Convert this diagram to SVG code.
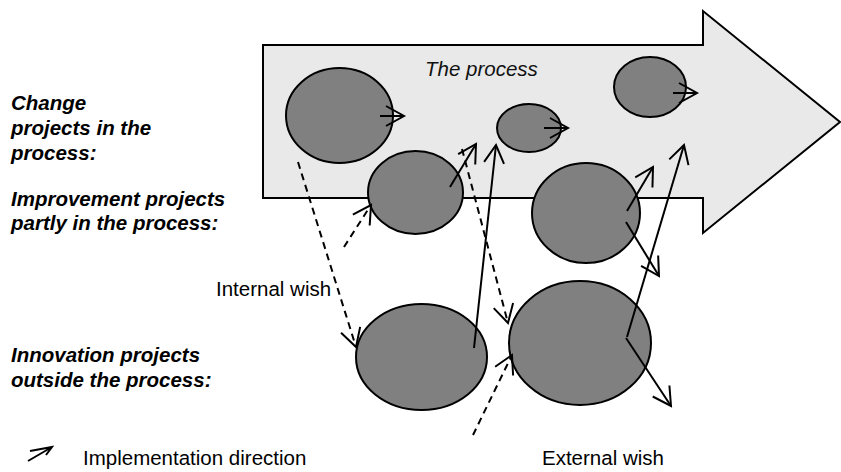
<svg xmlns="http://www.w3.org/2000/svg" width="841" height="472" viewBox="0 0 841 472">
  <style>
    .bg { fill: #ffffff; }
    .process { fill: #e9e9e9; stroke: #000; stroke-width: 2; stroke-linejoin: miter; }
    .proj { fill: #808080; stroke: #000; stroke-width: 2; }
    .solid { fill: none; stroke: #000; stroke-width: 2; }
    .dashed { fill: none; stroke: #000; stroke-width: 2; stroke-dasharray: 7 5; }
    .head { fill: none; stroke: #000; stroke-width: 2; stroke-linejoin: miter; }
    text { font-family: "Liberation Sans", Arial, sans-serif; font-size: 20.5px; fill: #000; }
    .title { font-style: italic; fill: #111; }
    .cat { font-style: italic; font-weight: bold; }
  </style>
  <defs>
    <marker id="open" markerUnits="userSpaceOnUse" viewBox="-22 -13 26 26" markerWidth="26" markerHeight="26" refX="0" refY="0" orient="auto" overflow="visible">
      <path class="head" d="M -18 -10 L 0 0 L -18 10"/>
    </marker>
  </defs>

  <rect class="bg" x="0" y="0" width="841" height="472"/>

  <!-- the process: large block arrow -->
  <g id="process">
    <polygon class="process" points="263,45 703,45 703,11 840,122 703,233 703,198 263,198"/>
    <text class="title" x="425" y="76">The process</text>
  </g>

  <!-- category labels -->
  <g id="labels">
    <text class="cat" x="11" y="110">Change</text>
    <text class="cat" x="11" y="135">projects in the</text>
    <text class="cat" x="11" y="160">process:</text>
    <text class="cat" x="11" y="206">Improvement projects</text>
    <text class="cat" x="11" y="230">partly in the process:</text>
    <text class="cat" x="11" y="362">Innovation projects</text>
    <text class="cat" x="11" y="387">outside the process:</text>
  </g>

  <!-- projects -->
  <g id="change-1"><ellipse class="proj" cx="339.5" cy="115.5" rx="53.5" ry="47.5"/></g>
  <g id="change-2"><ellipse class="proj" cx="529" cy="128" rx="32" ry="24"/></g>
  <g id="change-3"><ellipse class="proj" cx="650" cy="87" rx="36" ry="30"/></g>
  <g id="improve-1"><ellipse class="proj" cx="415.5" cy="192.5" rx="47.5" ry="41.5"/></g>
  <g id="improve-2"><ellipse class="proj" cx="586" cy="213" rx="54" ry="50"/></g>
  <g id="innov-1"><ellipse class="proj" cx="421.5" cy="357" rx="65.5" ry="53"/></g>
  <g id="innov-2"><ellipse class="proj" cx="580" cy="343" rx="71" ry="62"/></g>

  <!-- connectors -->
  <g id="connectors">
    <!-- implementation direction -->
    <line class="solid" x1="380" y1="116" x2="404" y2="116" marker-end="url(#open)"/>
    <line class="solid" x1="544" y1="128" x2="568" y2="128" marker-end="url(#open)"/>
    <line class="solid" x1="673" y1="93" x2="697" y2="93" marker-end="url(#open)"/>
    <line class="solid" x1="450" y1="187" x2="476" y2="144" marker-end="url(#open)"/>
    <line class="solid" x1="474" y1="348" x2="496" y2="145" marker-end="url(#open)"/>
    <line class="solid" x1="627" y1="211" x2="653" y2="167" marker-end="url(#open)"/>
    <line class="solid" x1="626" y1="222" x2="659" y2="276" marker-end="url(#open)"/>
    <line class="solid" x1="627" y1="337" x2="684" y2="145" marker-end="url(#open)"/>
    <line class="solid" x1="626" y1="338" x2="671" y2="406" marker-end="url(#open)"/>
    <!-- wishes -->
    <line class="dashed" x1="298" y1="162" x2="356" y2="347" marker-end="url(#open)"/>
    <line class="dashed" x1="344" y1="247" x2="371" y2="205" marker-end="url(#open)"/>
    <line class="dashed" x1="462" y1="149" x2="508" y2="323" marker-end="url(#open)"/>
    <line class="dashed" x1="473" y1="435" x2="512" y2="355" marker-end="url(#open)"/>
  </g>

  <!-- wish labels -->
  <g id="wish-labels">
    <text x="216" y="296">Internal wish</text>
    <text x="542" y="465">External wish</text>
  </g>

  <!-- legend -->
  <g id="legend">
    <path class="head" d="M 28 461 L 52 447 M 30 451 L 52 447 L 46 455"/>
    <text x="83" y="465">Implementation direction</text>
  </g>
</svg>
